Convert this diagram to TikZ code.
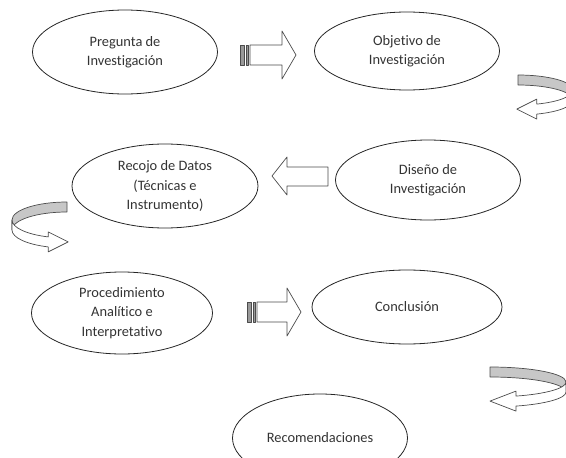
\documentclass[tikz,border=0pt]{standalone}
\usepackage{fontspec}
\setmainfont{Carlito}[Ligatures={NoCommon}]
\usetikzlibrary{shapes.geometric}
\begin{document}
\begin{tikzpicture}[x=1pt,y=-1pt,
    etapa/.style={draw=black!85,line width=0.8pt,ellipse,inner sep=0pt,align=center,
        text=black!80,font=\fontsize{14.4}{19.5}\selectfont},
    linea/.style={draw=black!70,line width=0.7pt,line join=round},
    pics/rayada/.style={code={
        \fill[black!40] (0,-10) rectangle (4,10) (6,-10) rectangle (8,10);
        \draw[linea] (0,-10) rectangle (4,10) (6,-10) rectangle (8,10);
        \draw[linea,fill=white] (10,-10) -- (#1,-10) -- (#1,-24) -- ++(14,24) -- (#1,24) -- (#1,10) -- (10,10) -- cycle;
    }},
    pics/vuelta/.style args={#1/#2/#3}{code={
        \draw[linea,fill=black!22] (0,-#2) arc[start angle=270,end angle=360,x radius=#1,y radius=#2]
            -- ++(0,10) arc[start angle=0,end angle=-90,x radius=#1,y radius=#2] -- cycle;
        \draw[linea,fill=white] (#1,0) arc[start angle=0,end angle=70,x radius=#1,y radius=#2]
            -- ++(0,-5) -- ++(-#3,10) -- ++(#3,10) -- ++(0,-5)
            arc[start angle=70,end angle=0,x radius=#1,y radius=#2] -- cycle;
    }}]
    \clip (0,0) rectangle (566,458);
    % etapas
    \node[etapa,minimum width=185,minimum height=84] (pregunta) at (125,52) {Pregunta de\\Investigación};
    \node[etapa,minimum width=185,minimum height=78] (objetivo) at (407,51) {Objetivo de\\Investigación};
    \node[etapa,minimum width=186,minimum height=84] (recojo) at (165,186) {Recojo de Datos\\(Técnicas e\\Instrumento)};
    \node[etapa,minimum width=185,minimum height=80] (diseno) at (428,180) {Diseño de\\Investigación};
    \node[etapa,minimum width=181,minimum height=82] (procedimiento) at (122,313) {Procedimiento\\Analítico e\\Interpretativo};
    \node[etapa,minimum width=190,minimum height=74] (conclusion) at (407,307) {Conclusión};
    \node[etapa,minimum width=175,minimum height=88] (recomendaciones) at (320,438) {Recomendaciones};
    % flechas
    \pic at (240,55) {rayada=42};
    \pic at (247,312) {rayada=40};
    \draw[linea,fill=white] (328,167) -- (287,167) -- (287,157) -- (272,176) -- (287,195) -- (287,186) -- (328,186) -- cycle;
    \pic at (518,90) {vuelta=55/15/20};
    \pic[xscale=-1] at (67,220) {vuelta=55/18/20};
    \pic at (490,382) {vuelta=76/15/26};
\end{tikzpicture}
\end{document}
